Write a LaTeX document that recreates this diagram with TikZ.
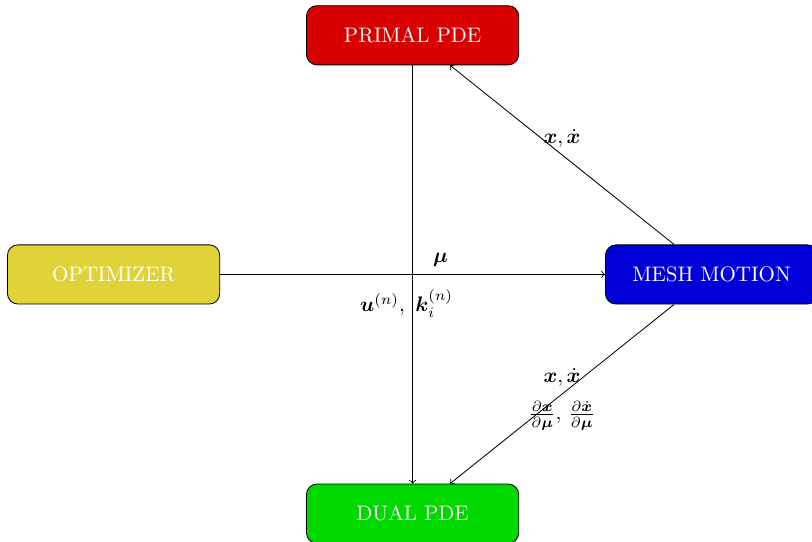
\documentclass[tikz,border=0pt]{standalone}
\usepackage{amsmath,amssymb,bm}
\definecolor{primalred}{RGB}{217,0,0}
\definecolor{optyellow}{RGB}{224,211,58}
\definecolor{meshblue}{RGB}{0,0,217}
\definecolor{dualgreen}{RGB}{0,217,0}
\begin{document}
\begin{tikzpicture}[block/.style={shape=rectangle,rounded corners=5pt,draw=black,text=white,minimum width=3.55cm,minimum height=0.99cm}]
            \useasboundingbox (-6.9,-4.47) rectangle (6.68,4.59);
            \node[block,fill=primalred] (P) at (0,4) {PRIMAL PDE};
            \node[block,fill=optyellow] (O) at (-5,0) {OPTIMIZER};
            \node[block,fill=meshblue] (M) at (5,0) {MESH MOTION};
            \node[block,fill=dualgreen] (D) at (0,-4) {DUAL PDE};

            \path [->] (P) edge node[pos=0.57,xshift=-0.1cm] {$\bm{u}^{(n)},\ \bm{k}_i^{(n)}$} (D);
            \path [->] (O) edge node[pos=0.573,above] {$\bm{\mu}$} (M);
            \path [->] (M) edge node[above] {$\bm{x},\dot{\bm{x}}$} (P);
            \path [->] (M) edge node[above] {$\bm{x},\dot{\bm{x}}$}
                node[below] {$\frac{\partial\bm{x}}{\partial\bm{\mu}},\,\frac{\partial\dot{\bm{x}}}{\partial\bm{\mu}}$} (D);
        \end{tikzpicture}
\end{document}
